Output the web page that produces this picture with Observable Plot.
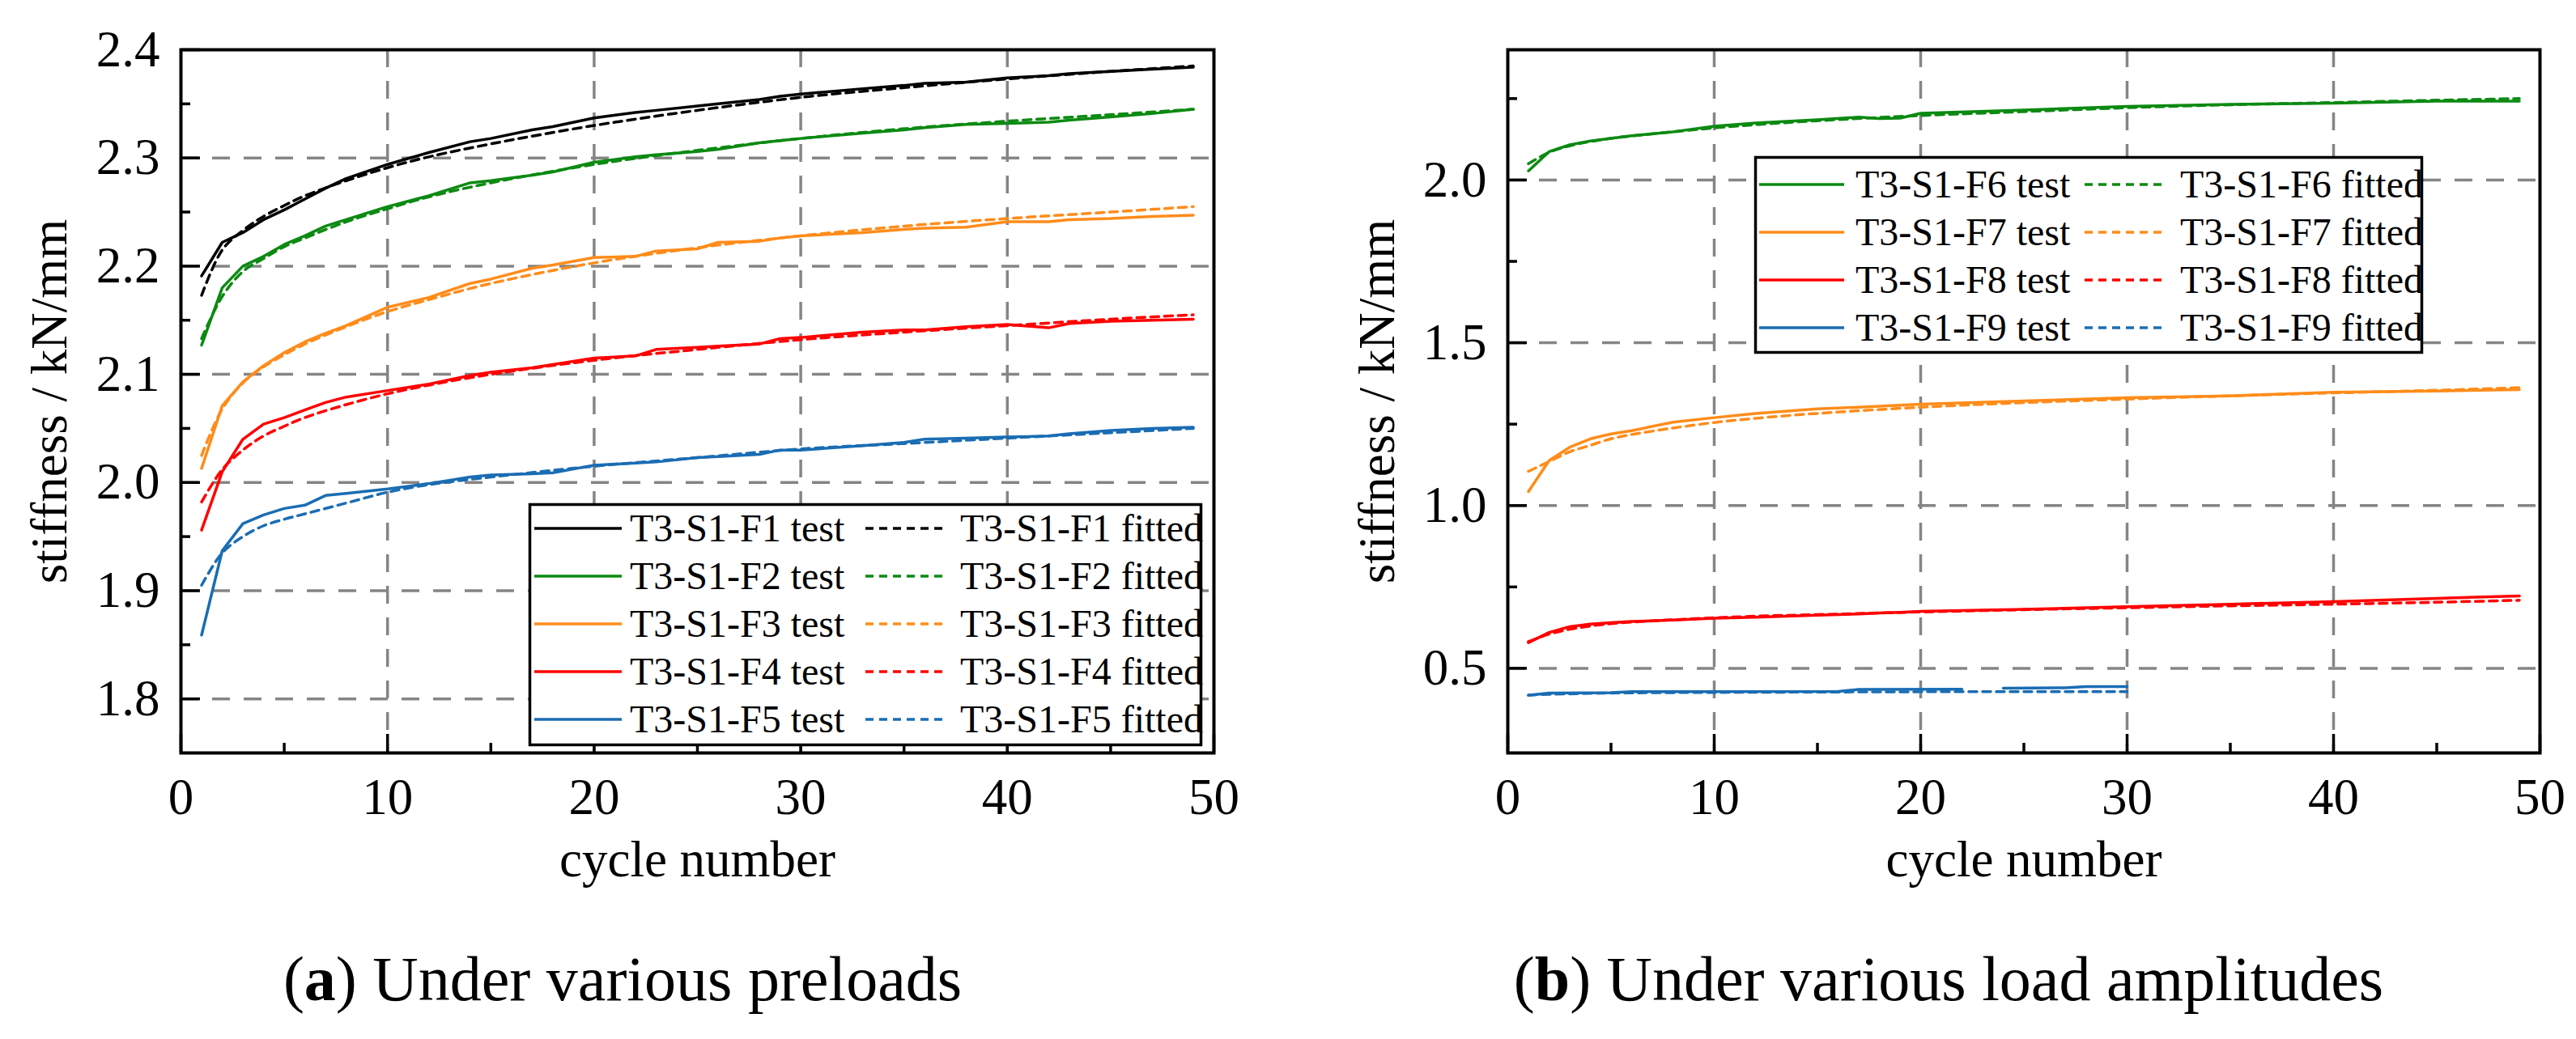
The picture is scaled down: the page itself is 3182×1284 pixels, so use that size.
<!DOCTYPE html>
<html><head><meta charset="utf-8">
<script src="https://cdn.jsdelivr.net/npm/d3@7"></script>
<script src="https://cdn.jsdelivr.net/npm/@observablehq/plot@0.6"></script>
<style>
html,body{margin:0;padding:0;background:#fff;}
#fig{position:relative;width:3182px;height:1284px;overflow:hidden;background:#fff;font-family:"Liberation Serif","Times New Roman",serif;color:#000;}
.panel{position:absolute;top:0;}
.caption{position:absolute;width:1400px;text-align:center;font-size:78px;line-height:78px;top:1171px;white-space:nowrap;}
.legend{position:absolute;}
</style></head><body><div id="fig"></div>
<script>
// ---------- data: panel (a) ----------
const cycA_test = [1,2,3,4,5,6,7,8,10,12,14,15,17,18,20,22,23,25,26,28,29,30,33,35,36,38,40,42,43,45,47,49];
const F1_test = [2.191,2.222,2.231,2.243,2.252,2.262,2.272,2.281,2.294,2.305,2.315,2.318,2.326,2.329,2.337,2.342,2.344,2.348,2.350,2.354,2.357,2.359,2.364,2.367,2.369,2.370,2.374,2.376,2.378,2.380,2.382,2.384];
const F2_test = [2.127,2.180,2.200,2.209,2.220,2.228,2.237,2.243,2.255,2.265,2.277,2.279,2.284,2.287,2.296,2.301,2.303,2.306,2.308,2.314,2.316,2.318,2.323,2.326,2.328,2.331,2.332,2.333,2.335,2.338,2.341,2.345];
const F3_test = [2.013,2.071,2.093,2.108,2.120,2.130,2.138,2.145,2.162,2.171,2.184,2.188,2.198,2.201,2.208,2.209,2.214,2.216,2.222,2.223,2.226,2.228,2.231,2.234,2.235,2.236,2.241,2.241,2.243,2.244,2.246,2.247];
const F4_test = [1.956,2.010,2.040,2.054,2.060,2.067,2.074,2.079,2.085,2.091,2.099,2.102,2.106,2.109,2.115,2.117,2.123,2.125,2.126,2.128,2.133,2.134,2.139,2.141,2.141,2.144,2.146,2.143,2.147,2.149,2.150,2.151];
const F5_test = [1.859,1.937,1.962,1.970,1.976,1.979,1.988,1.990,1.994,1.999,2.005,2.007,2.008,2.009,2.016,2.018,2.019,2.023,2.024,2.026,2.030,2.030,2.034,2.037,2.040,2.041,2.042,2.043,2.045,2.048,2.050,2.051];
const cycA_fit = [1,2,3,4,5,6,8,10,12,15,20,25,30,35,40,45,49];
const F1_fit = [2.173,2.215,2.233,2.246,2.256,2.265,2.279,2.291,2.301,2.313,2.330,2.344,2.356,2.365,2.373,2.380,2.385];
const F2_fit = [2.133,2.172,2.195,2.207,2.218,2.226,2.241,2.253,2.264,2.277,2.294,2.307,2.318,2.327,2.334,2.340,2.345];
const F3_fit = [2.025,2.068,2.092,2.107,2.118,2.128,2.144,2.158,2.169,2.184,2.203,2.217,2.228,2.237,2.244,2.250,2.255];
const F4_fit = [1.982,2.012,2.030,2.043,2.052,2.060,2.072,2.082,2.090,2.100,2.113,2.123,2.132,2.139,2.145,2.151,2.155];
const F5_fit = [1.905,1.935,1.950,1.960,1.966,1.971,1.981,1.991,1.998,2.005,2.015,2.023,2.031,2.036,2.041,2.046,2.050];

// ---------- data: panel (b) ----------
const cycB_test = [1,2,3,4,5,6,8,10,12,15,17,18,19,20,25,30,35,40,45,49];
const F6_test = [2.028,2.087,2.108,2.120,2.128,2.136,2.148,2.165,2.175,2.185,2.193,2.189,2.190,2.205,2.215,2.226,2.232,2.236,2.242,2.242];
const F7_test = [1.043,1.138,1.179,1.205,1.220,1.230,1.256,1.270,1.283,1.297,1.302,1.305,1.308,1.311,1.321,1.331,1.337,1.348,1.352,1.356];
const F8_test = [0.579,0.610,0.628,0.636,0.640,0.644,0.648,0.654,0.657,0.663,0.667,0.670,0.672,0.675,0.681,0.689,0.697,0.705,0.715,0.722];
const cycF9_test = [1,2,5,6,16,17,22,23,24,27,28,30];
const F9_test = [0.417,0.424,0.425,0.428,0.429,0.435,0.436,null,0.439,0.440,0.444,0.444];
const cycB_fit = [1,2,3,4,5,6,8,10,12,15,20,25,30,35,40,45,49];
const F6_fit = [2.050,2.085,2.105,2.118,2.128,2.135,2.148,2.160,2.170,2.182,2.198,2.210,2.222,2.231,2.238,2.245,2.250];
const F7_fit = [1.105,1.135,1.165,1.185,1.205,1.218,1.238,1.255,1.268,1.283,1.302,1.316,1.327,1.337,1.346,1.354,1.362];
const F8_fit = [0.582,0.605,0.620,0.630,0.637,0.642,0.649,0.655,0.660,0.665,0.673,0.680,0.686,0.692,0.697,0.703,0.709];
const cycF9_fit = [1,2,5,10,15,20,25,30];
const F9_fit = [0.418,0.420,0.424,0.426,0.427,0.428,0.428,0.428];

// ---------- labels / ticks / colors ----------
const namesA = ["T3-S1-F1","T3-S1-F2","T3-S1-F3","T3-S1-F4","T3-S1-F5"];
const namesB = ["T3-S1-F6","T3-S1-F7","T3-S1-F8","T3-S1-F9"];
const colorsA = ["#000000","#0c8a12","#ff8c1a","#ff0000","#1a6db3"];
const colorsB = ["#0c8a12","#ff8c1a","#ff0000","#1a6db3"];
const xMajor = [0,10,20,30,40,50];
const xMinor = [5,15,25,35,45];
const xGrid = [10,20,30,40];
const yMajorA = [1.8,1.9,2.0,2.1,2.2,2.3,2.4];
const yMinorA = [1.85,1.95,2.05,2.15,2.25,2.35];
const yGridA = [1.8,1.9,2.0,2.1,2.2,2.3];
const yMajorB = [0.5,1.0,1.5,2.0];
const yMinorB = [0.75,1.25,1.75,2.25];
const yGridB = [0.5,1.0,1.5,2.0];
const xLabel = "cycle number";
const yLabel = "stiffness / kN/mm";
const captions = [["a","Under various preloads"],["b","Under various load amplitudes"]];

const seriesA = [
  {name:namesA[0], color:colorsA[0], tx:cycA_test, ty:F1_test, fx:cycA_fit, fy:F1_fit},
  {name:namesA[1], color:colorsA[1], tx:cycA_test, ty:F2_test, fx:cycA_fit, fy:F2_fit},
  {name:namesA[2], color:colorsA[2], tx:cycA_test, ty:F3_test, fx:cycA_fit, fy:F3_fit},
  {name:namesA[3], color:colorsA[3], tx:cycA_test, ty:F4_test, fx:cycA_fit, fy:F4_fit},
  {name:namesA[4], color:colorsA[4], tx:cycA_test, ty:F5_test, fx:cycA_fit, fy:F5_fit}
];
const seriesB = [
  {name:namesB[0], color:colorsB[0], tx:cycB_test, ty:F6_test, fx:cycB_fit, fy:F6_fit},
  {name:namesB[1], color:colorsB[1], tx:cycB_test, ty:F7_test, fx:cycB_fit, fy:F7_fit},
  {name:namesB[2], color:colorsB[2], tx:cycB_test, ty:F8_test, fx:cycB_fit, fy:F8_fit},
  {name:namesB[3], color:colorsB[3], tx:cycF9_test, ty:F9_test, fx:cycF9_fit, fy:F9_fit}
];

const FONT = '"Liberation Serif","Times New Roman",serif';
const fig = document.getElementById("fig");

function makePanel(cfg) {
  const {series, yDomain, yMajor, yMinor, yGrid, width, height, mL, mR, mT, mB, yLabelDx} = cfg;
  const fw = width - mL - mR, fh = height - mT - mB;
  const gridStyle = {stroke:"#858585", strokeOpacity:1, strokeWidth:3.5, strokeDasharray:"22,17"};
  const tickStyle = {stroke:"#000", strokeWidth:3.5};
  const marks = [
    Plot.gridX(xGrid, gridStyle),
    Plot.gridY(yGrid, gridStyle)
  ];
  for (const s of series) {
    const t = s.tx.map((x,i) => ({x, y: s.ty[i]}));
    const f = s.fx.map((x,i) => ({x, y: s.fy[i]}));
    marks.push(Plot.line(t, {x:"x", y:"y", stroke:s.color, strokeWidth:3.5, strokeLinejoin:"round"}));
    marks.push(Plot.line(f, {x:"x", y:"y", stroke:s.color, strokeWidth:3.5, strokeDasharray:"10,7", curve:"catmull-rom"}));
  }
  marks.push(
    Plot.tickX(xMajor, {x:d=>d, insetTop: fh-23, ...tickStyle}),
    Plot.tickX(xMinor, {x:d=>d, insetTop: fh-12, ...tickStyle}),
    Plot.tickY(yMajor, {y:d=>d, insetRight: fw-24, ...tickStyle}),
    Plot.tickY(yMinor, {y:d=>d, insetRight: fw-12, ...tickStyle}),
    Plot.frame({stroke:"#000", strokeWidth:4}),
    Plot.axisX(xMajor, {tickSize:0, tickPadding:31, label:null, fontSize:63, tickFormat:d3.format("d")}),
    Plot.axisY(yMajor, {tickSize:0, tickPadding:26, label:null, fontSize:63, tickFormat:d3.format(".1f")}),
    Plot.text([xLabel], {frameAnchor:"bottom", dy:132, fontSize:63, lineAnchor:"middle", text:d=>d}),
    Plot.text([yLabel], {frameAnchor:"left", dx:yLabelDx, rotate:-90, fontSize:63, lineAnchor:"middle", textAnchor:"middle", text:d=>d})
  );
  return Plot.plot({
    width, height, marginLeft:mL, marginRight:mR, marginTop:mT, marginBottom:mB,
    x:{domain:[0,50], label:null},
    y:{domain:yDomain, label:null},
    style:{fontFamily:FONT, fontSize:"63px", background:"transparent", overflow:"visible", color:"#000"},
    marks
  });
}

function addPanel(svg, left) {
  const d = document.createElement("div");
  d.className = "panel"; d.style.left = left + "px";
  d.appendChild(svg); fig.appendChild(d);
}

addPanel(makePanel({series:seriesA, yDomain:[1.75,2.4], yMajor:yMajorA, yMinor:yMinorA, yGrid:yGridA,
  width:1580, height:1120, mL:223, mR:81, mT:61, mB:190, yLabelDx:-162}), 0);
addPanel(makePanel({series:seriesB, yDomain:[0.24,2.4], yMajor:yMajorB, yMinor:yMinorB, yGrid:yGridB,
  width:1582, height:1120, mL:262, mR:45, mT:61, mB:190, yLabelDx:-161}), 1600);

// ---------- legends ----------
function addLegend(series, box) {
  const div = document.createElement("div");
  div.className = "legend";
  div.style.left = box.left + "px"; div.style.top = box.top + "px";
  fig.appendChild(div);
  const svg = d3.select(div).append("svg").attr("width", box.w).attr("height", box.h)
    .style("overflow","visible").style("font-family", FONT);
  svg.append("rect").attr("x",1.5).attr("y",1.5).attr("width",box.w-3).attr("height",box.h-3)
    .attr("fill","#fff").attr("stroke","#000").attr("stroke-width",3.5);
  series.forEach((s,i) => {
    const y = box.r0 + i*box.step;
    const g = svg.append("g");
    g.append("line").attr("x1",box.l1[0]).attr("x2",box.l1[1]).attr("y1",y).attr("y2",y)
      .attr("stroke",s.color).attr("stroke-width",3.5);
    g.append("text").attr("x",box.t1).attr("y",y).attr("dy","0.33em").attr("font-size",48).text(s.name + " test");
    g.append("line").attr("x1",box.l2[0]).attr("x2",box.l2[1]).attr("y1",y).attr("y2",y)
      .attr("stroke",s.color).attr("stroke-width",3.5).attr("stroke-dasharray","10,7");
    g.append("text").attr("x",box.t2).attr("y",y).attr("dy","0.33em").attr("font-size",48).text(s.name + " fitted");
  });
}
addLegend(seriesA, {left:653, top:622, w:832, h:300, r0:31, step:59, l1:[7,115], t1:125, l2:[416,515], t2:533});
addLegend(seriesB, {left:2167, top:193, w:826, h:244, r0:35, step:59, l1:[6,111], t1:125, l2:[408,508], t2:526});

// ---------- captions ----------
[[769, captions[0]], [2407, captions[1]]].forEach(([cx, [letter, text]]) => {
  const c = document.createElement("div");
  c.className = "caption";
  c.style.left = (cx - 700) + "px";
  c.appendChild(document.createTextNode("("));
  const b = document.createElement("b"); b.textContent = letter; c.appendChild(b);
  c.appendChild(document.createTextNode(") " + text));
  fig.appendChild(c);
});
</script>
</body></html>
